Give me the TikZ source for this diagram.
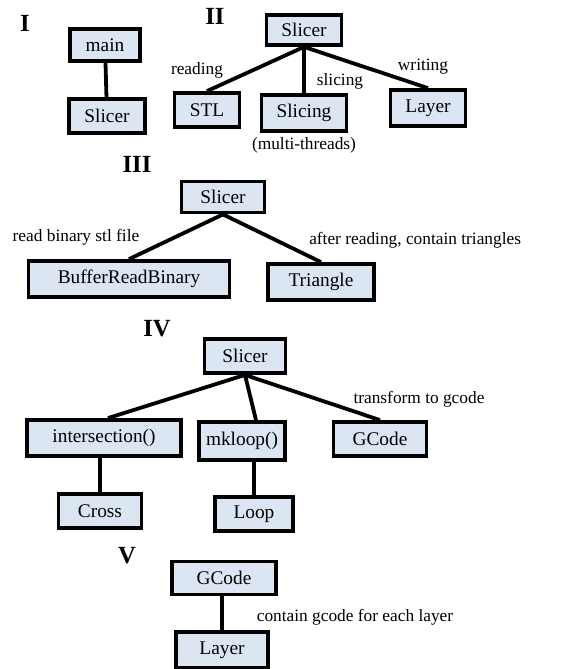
\documentclass[tikz,border=0pt]{standalone}
\usepackage{fontspec}
\setmainfont{Liberation Serif}
\usetikzlibrary{calc}

\begin{document}
\begin{tikzpicture}[x=0.75pt, y=-0.75pt]
    % Define colours
    \definecolor{boxFill}{HTML}{DCE6F2}
    \definecolor{boxBorder}{HTML}{000000}

    % One pixel of the sketch
    \def\px{0.75pt}

    \tikzset{
        box/.style={draw=boxBorder, fill=boxFill, line width=3.8*\px, inner sep=0pt,
            minimum height=34*\px, font=\fontsize{14.5}{16}\selectfont},
        link/.style={line width=3.8*\px, draw=boxBorder},
        note/.style={inner sep=0pt, font=\fontsize{13}{15}\selectfont},
        part/.style={inner sep=0pt, font=\fontsize{18.5}{20}\selectfont\bfseries}
    }

    % Fix the page size
    \useasboundingbox (0,0) rectangle (577,669);

    % Part I
    \node[part] (partI) at (25,23) {I};
    \node[box, minimum width=70*\px, minimum height=32*\px] (main) at (105,45) {main};
    \node[box, minimum width=76*\px] (slicerI) at (107,116) {Slicer};
    \draw[link] (main) -- (slicerI);

    % Part II
    \node[part] (partII) at (215,16) {II};
    \node[box, minimum width=75*\px, minimum height=30*\px] (slicerII) at (304,30) {Slicer};
    \node[box, minimum width=65*\px] (stl) at (207,110) {STL};
    \node[box, minimum width=85*\px, minimum height=36*\px] (slicing) at (304,113) {Slicing};
    \node[box, minimum width=75*\px, minimum height=36*\px] (layerII) at (428,108) {Layer};
    \node[note] (threads) at (304,145) {(multi-threads)};
    \draw[link] (slicerII.south) -- (stl.north);
    \draw[link] (slicerII.south) -- (slicing.north);
    \draw[link] (slicerII.south) -- (layerII.north);
    \node[note] (reading) at (197,70) {reading};
    \node[note] (slicingTxt) at (340,81) {slicing};
    \node[note] (writing) at (423,67) {writing};

    % Part III
    \node[part] (partIII) at (137,164) {III};
    \node[box, minimum width=83*\px, minimum height=31*\px] (slicerIII) at (223,197) {Slicer};
    \node[box, minimum width=201*\px, minimum height=36*\px] (bufRead) at (129,279) {BufferReadBinary};
    \node[box, minimum width=106*\px, minimum height=36*\px] (triangle) at (321,282) {Triangle};
    \draw[link] (slicerIII.south) -- (bufRead.north);
    \draw[link] (slicerIII.south) -- (triangle.north);
    \node[note] (readBin) at (76,237) {read binary stl file};
    \node[note, anchor=west] (afterRead) at (309,240) {after reading, contain triangles};

    % Part IV
    \node[part] (partIV) at (157,329) {IV};
    \node[box, minimum width=81*\px] (slicerIV) at (245,356) {Slicer};
    \node[box, minimum width=154*\px, minimum height=36*\px] (intersect) at (104,438) {intersection()};
    \node[box, minimum width=86*\px, minimum height=38*\px] (mkloop) at (242,441) {mkloop()};
    \node[box, minimum width=93*\px] (gcodeIV) at (380,439) {GCode};
    \node[box, minimum width=83*\px] (cross) at (100,511) {Cross};
    \node[box, minimum width=78*\px] (loop) at (254,514) {Loop};
    \draw[link] (slicerIV.south) -- ($(intersect.north)+(4,0)$);
    \draw[link] (slicerIV.south) -- ($(mkloop.north)+(14,0)$);
    \draw[link] (slicerIV.south) -- (gcodeIV.north);
    \draw[link] (intersect.south -| cross.north) -- (cross.north);
    \draw[link] (mkloop.south -| loop.north) -- (loop.north);
    \node[note] (toGcode) at (419,399) {transform to gcode};

    % Part V
    \node[part] (partV) at (127,556) {V};
    \node[box, minimum width=104*\px, minimum height=33*\px] (gcodeV) at (224,578) {GCode};
    \node[box, minimum width=92*\px, minimum height=36*\px] (layerV) at (222,650) {Layer};
    \draw[link] (gcodeV.south -| layerV.north) -- (layerV.north);
    \node[note] (eachLayer) at (355,617) {contain gcode for each layer};

\end{tikzpicture}
\end{document}
